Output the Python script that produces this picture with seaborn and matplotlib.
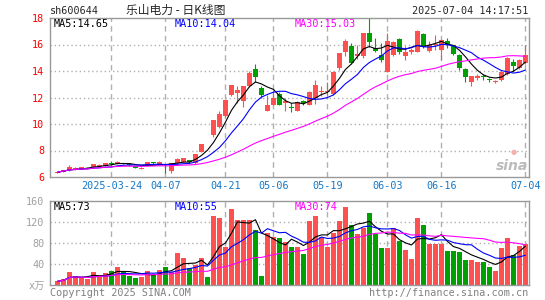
import matplotlib
matplotlib.use("Agg")
import numpy as np
import pandas as pd
import matplotlib.pyplot as plt
import seaborn as sns

# ==============================================
# Daily K-line data: sh600644, 2025-03-11 .. 2025-07-04
# ==============================================
opens = [6.33, 6.38, 6.50, 6.58, 6.62, 6.62, 6.73, 6.85, 6.83, 7.02,
         6.98, 7.02, 6.95, 6.83, 6.60, 6.93, 7.07, 6.92, 6.78, 6.45,
         7.05, 7.15, 7.25, 7.05, 7.90, 9.38, 9.20, 9.80, 10.60, 12.20,
         12.35, 11.76, 12.87, 14.13, 12.74, 11.00, 11.43, 12.30, 11.60, 11.25,
         11.00, 11.70, 11.43, 11.94, 12.40, 12.40, 12.30, 14.20, 15.45, 15.90,
         15.10, 15.10, 16.85, 15.70, 15.20, 13.95, 15.20, 16.40, 15.10, 15.45,
         15.45, 16.80, 15.50, 15.95, 15.60, 16.26, 15.96, 15.20, 14.13, 13.20,
         13.50, 13.62, 13.38, 13.18, 13.30, 13.80, 14.70, 14.20, 14.60]
closes = [6.36, 6.53, 6.72, 6.68, 6.72, 6.68, 6.96, 6.92, 7.05, 7.00,
          7.15, 6.98, 6.90, 6.68, 6.70, 7.10, 7.03, 7.10, 6.72, 7.03,
          7.36, 7.40, 7.12, 7.74, 8.50, 9.36, 10.30, 10.75, 11.80, 12.95,
          12.60, 12.87, 13.87, 13.57, 12.20, 11.43, 12.00, 11.43, 11.75, 11.20,
          11.68, 11.55, 12.44, 12.94, 12.50, 12.50, 13.95, 15.33, 16.30, 14.58,
          15.30, 16.85, 16.20, 15.50, 14.83, 16.30, 16.20, 15.45, 15.45, 15.55,
          17.00, 15.80, 16.00, 16.05, 16.34, 15.96, 15.30, 14.20, 13.57, 13.60,
          13.60, 13.57, 13.33, 13.25, 13.95, 15.00, 14.38, 14.83, 15.20]
highs = [6.38, 6.55, 6.90, 6.72, 6.75, 6.72, 6.98, 6.98, 7.08, 7.20,
         7.18, 7.05, 7.00, 6.86, 6.75, 7.12, 7.10, 7.20, 6.95, 7.05,
         7.40, 7.45, 7.30, 7.76, 8.52, 9.38, 10.32, 11.00, 11.83, 12.98,
         12.90, 12.90, 14.00, 14.50, 12.85, 12.20, 12.55, 12.40, 12.00, 11.60,
         11.70, 11.80, 12.50, 13.30, 12.90, 13.20, 14.00, 15.35, 16.40, 16.10,
         16.00, 16.90, 18.00, 16.50, 16.10, 16.85, 16.30, 16.50, 15.90, 15.70,
         17.10, 16.90, 16.30, 16.70, 16.40, 16.50, 16.00, 15.25, 14.20, 13.65,
         13.80, 13.80, 13.50, 13.30, 14.00, 15.05, 14.90, 14.90, 15.96]
lows = [6.32, 6.37, 6.45, 6.55, 6.60, 6.60, 6.70, 6.80, 6.80, 6.90,
        6.95, 6.95, 6.85, 6.65, 6.58, 6.90, 6.98, 6.90, 6.30, 6.32,
        7.00, 7.10, 7.05, 7.00, 7.85, 9.36, 9.00, 9.70, 10.50, 12.10,
        11.60, 11.30, 12.80, 13.20, 12.00, 10.95, 11.40, 11.40, 11.00, 10.90,
        10.95, 11.40, 11.40, 11.50, 12.10, 12.20, 12.20, 14.10, 15.10, 14.50,
        14.90, 15.00, 15.80, 15.45, 14.70, 13.90, 15.10, 15.30, 14.80, 15.30,
        15.40, 15.70, 15.40, 15.60, 14.80, 15.70, 15.20, 14.10, 13.20, 12.87,
        13.30, 13.30, 13.20, 13.10, 13.25, 13.70, 14.00, 14.15, 14.55]
# volume in units of 10k lots
volumes = [7, 11, 25, 18, 13, 12, 25, 19, 23, 27,
           35, 25, 18, 14, 16, 27, 20, 29, 35, 25,
           61, 52, 33, 38, 52, 16, 131, 128, 73, 145,
           124, 124, 124, 105, 18, 100, 92, 90, 81, 73,
           73, 59, 122, 131, 92, 73, 100, 121, 149, 114,
           97, 109, 138, 97, 71, 71, 109, 84, 67, 50,
           128, 114, 79, 79, 79, 65, 64, 62, 48, 48,
           43, 43, 35, 27, 71, 90, 57, 74, 78]

tick_days = [9, 18, 28, 36, 45, 55, 64, 78]
tick_labels = ["2025-03-24", "04-07", "04-21", "05-06", "05-19", "06-03", "06-16", "07-04"]
price_ticks = [6, 8, 10, 12, 14, 16, 18]
vol_ticks = [0, 40, 80, 120, 160]
vol_tick_labels = ["x万", "40", "80", "120", "160"]

# legend values as printed on the chart
price_ma_text = ["MA5:14.65", "MA10:14.04", "MA30:15.03"]
vol_ma_text = ["MA5:73", "MA10:55", "MA30:74"]

# ==============================================
# Build frame + moving averages
# ==============================================
df = pd.DataFrame({"open": opens, "close": closes, "high": highs,
                   "low": lows, "vol": volumes})
df["day"] = np.arange(len(df))
for n in (5, 10, 30):
    df[f"ma{n}"] = df["close"].rolling(n, min_periods=1).mean()
    df[f"vma{n}"] = df["vol"].rolling(n, min_periods=1).mean()

UP = "#FF5050"
DOWN = "#00A000"
df["color"] = np.where(df["close"] >= df["open"], UP, DOWN)
ma_colors = ["black", "#0000FF", "#FF00FF"]

# ==============================================
# Figure
# ==============================================
sns.set_style("white")
plt.rcParams["font.family"] = ["DejaVu Sans Mono", "Noto Sans CJK SC"]
W, H = 545, 300
fig = plt.figure(figsize=(W / 100, H / 100), dpi=100)


def fpos(x, y):
    return x / W, 1 - y / H


ax = fig.add_axes([50 / W, 123 / H, 479 / W, 159 / H])
axv = fig.add_axes([50 / W, 15 / H, 479 / W, 84 / H])

xlim = (-1.25, 78.6)
grid_c = "#B0B0B0"
fs = 7.3

for a in (ax, axv):
    a.set_xlim(*xlim)
    for s in a.spines.values():
        s.set_color("#999999")
        s.set_linewidth(1)
        s.set_visible(True)
    for d in tick_days:
        a.axvline(d, color=grid_c, lw=1, ls=(0, (4, 3)), zorder=0)
    a.tick_params(length=0)

# --- candles ---
body_h = (df["close"] - df["open"]).abs().clip(lower=0.07)
body_b = df[["open", "close"]].min(axis=1)
ax.vlines(df["day"], df["low"], df["high"], colors=df["color"], lw=0.8, zorder=2)
ax.bar(df["day"], body_h, bottom=body_b, width=0.8, color=df["color"],
       linewidth=0, zorder=3)

for n, c in zip((5, 10, 30), ma_colors):
    sns.lineplot(x=df["day"], y=df[f"ma{n}"], ax=ax, color=c, lw=0.8, zorder=4)

ax.set_ylim(6, 18)
for t in price_ticks[1:-1]:
    ax.axhline(t, color=grid_c, lw=1, ls=(0, (1, 2)), zorder=0)
ax.set_yticks(price_ticks)
ax.set_yticklabels([str(t) for t in price_ticks], color="#FF0000", fontsize=fs)
ax.set_xticks(tick_days)
ax.set_xticklabels(tick_labels, color="#1478C8", fontsize=fs)
ax.tick_params(axis="y", pad=4)
ax.tick_params(axis="x", pad=3)
ax.set_xlabel("")
ax.set_ylabel("")

# --- volume ---
axv.bar(df["day"], df["vol"], width=0.8, color=df["color"], linewidth=0, zorder=2)
for n, c in zip((5, 10, 30), ma_colors):
    sns.lineplot(x=df["day"], y=df[f"vma{n}"], ax=axv, color=c, lw=0.8, zorder=4)
axv.set_ylim(0, 160)
for t in vol_ticks[1:-1]:
    axv.axhline(t, color=grid_c, lw=1, ls=(0, (1, 2)), zorder=0)
axv.set_yticks(vol_ticks)
axv.set_yticklabels(vol_tick_labels, color="#A0A0A0", fontsize=fs)
axv.tick_params(axis="y", pad=4)
axv.set_xticks([])
axv.set_xlabel("")
axv.set_ylabel("")

# --- texts ---
fig.text(*fpos(50, 11), "sh600644", fontsize=fs, va="center", ha="left")
fig.text(*fpos(176, 10), "乐山电力 - 日K线图", fontsize=8.5, va="center",
         ha="center", family=["Noto Sans CJK SC", "DejaVu Sans"])
fig.text(*fpos(528, 11), "2025-07-04 14:17:51", fontsize=fs, va="center", ha="right")

for txt, x, c in zip(price_ma_text, (54, 175, 295), ma_colors):
    fig.text(*fpos(x, 24), txt, fontsize=fs, color=c, va="center", ha="left")
for txt, x, c in zip(vol_ma_text, (54, 175, 295), ma_colors):
    fig.text(*fpos(x, 207), txt, fontsize=fs, color=c, va="center", ha="left")

fig.text(*fpos(50, 293), "Copyright 2025 SINA.COM", fontsize=fs, color="#808080",
         va="center", ha="left")
fig.text(*fpos(528, 293), "http://finance.sina.com.cn", fontsize=fs, color="#808080",
         va="center", ha="right")

# sina watermark
fig.text(*fpos(512, 166), "sina", fontsize=10, color="#BBBBBB", style="italic",
         weight="bold", va="center", ha="center", family="DejaVu Sans")
fig.text(*fpos(514, 152), "●", fontsize=5, color="#F2B0B0", va="center",
         ha="center", family="DejaVu Sans")

fig.savefig("out.png", dpi=100)
